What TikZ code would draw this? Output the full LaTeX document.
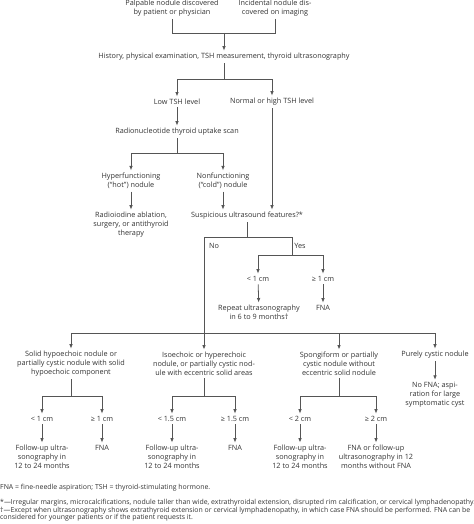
\documentclass[tikz,border=0pt]{standalone}
\usepackage{fontspec}
\setmainfont{Open Sans}
\usetikzlibrary{arrows.meta}
\definecolor{txtgray}{HTML}{333333}
\definecolor{linegray}{HTML}{555555}

\begin{document}
\begin{tikzpicture}[x=1bp, y=-1bp,
  box/.style={align=center, inner xsep=0pt, inner ysep=2.5bp, text=txtgray, font=\fontsize{7.3}{9}\selectfont},
  note/.style={anchor=west, align=left, inner sep=0pt, text=txtgray, font=\fontsize{6.95}{7.6}\selectfont},
  link/.style={draw=linegray, line width=0.8bp},
  >={Latex[length=4.5bp, width=3.6bp]}]
  \useasboundingbox (0,0) rectangle (474,524);

  % Presentation
  \node[box] (palp) at (172, 8) {Palpable nodule discovered\\by patient or physician};
  \node[box] (incid) at (275, 8) {Incidental nodule dis-\\covered on imaging};
  \coordinate (top-join) at (224, 33);
  \node[box] (hist) at (224, 57) {History, physical examination, TSH measurement, thyroid ultrasonography};
  \coordinate (tsh-split) at (224, 79);

  % TSH level
  \node[box] (low) at (177, 102) {Low TSH level};
  \node[box] (normal) at (272, 102) {Normal or high TSH level};
  \node[box] (radio) at (177, 132) {Radionucleotide thyroid uptake scan};
  \coordinate (scan-split) at (177, 153);
  \node[box] (hot) at (131, 181) {Hyperfunctioning\\(``hot'') nodule};
  \node[box] (cold) at (223, 181) {Nonfunctioning\\(``cold'') nodule};
  \node[box] (ablate) at (131, 225) {Radioiodine ablation,\\surgery, or antithyroid\\therapy};

  % Ultrasound features
  \node[box] (susp) at (247, 216) {Suspicious ultrasound features?*};
  \coordinate (susp-split) at (247, 237);
  \coordinate (no-c) at (204, 237);
  \coordinate (yes-c) at (292, 237);
  \node[box] (lbl-no) at (214, 246) {No};
  \node[box] (lbl-yes) at (300, 246) {Yes};
  \coordinate (yes-split) at (292, 255);
  \node[box] (yes-small) at (258, 279) {< 1 cm};
  \node[box] (yes-large) at (323, 279) {≥ 1 cm};
  \node[box] (repeat) at (259, 312.5) {Repeat ultrasonography\\in 6 to 9 months†};
  \node[box] (yes-fna) at (323, 308) {FNA};
  \coordinate (no-split) at (204, 333);

  % Nodule types
  \node[box] (solid) at (71, 364) {Solid hypoechoic nodule or\\partially cystic nodule with solid\\hypoechoic component};
  \node[box] (iso) at (204, 364) {Isoechoic or hyperechoic\\nodule, or partially cystic nod-\\ule with eccentric solid areas};
  \node[box] (spongi) at (339, 364) {Spongiform or partially\\cystic nodule without\\eccentric solid nodule};
  \node[box] (cystic) at (435, 355) {Purely cystic nodule};
  \node[box] (nofna) at (435, 395) {No FNA; aspi-\\ration for large\\symptomatic cyst};
  \coordinate (solid-split) at (71, 396);
  \coordinate (iso-split) at (204, 396);
  \coordinate (spongi-split) at (339, 396);

  % Size cut-offs
  \node[box] (solid-small) at (42, 419) {< 1 cm};
  \node[box] (solid-large) at (102, 419) {≥ 1 cm};
  \node[box] (iso-small) at (172, 419) {< 1.5 cm};
  \node[box] (iso-large) at (235, 419) {≥ 1.5 cm};
  \node[box] (spongi-small) at (300, 419) {< 2 cm};
  \node[box] (spongi-large) at (376, 419) {≥ 2 cm};
  \node[box] (solid-follow) at (42, 457) {Follow-up ultra-\\sonography in\\12 to 24 months};
  \node[box] (solid-fna) at (102, 448) {FNA};
  \node[box] (iso-follow) at (172, 457) {Follow-up ultra-\\sonography in\\12 to 24 months};
  \node[box] (iso-fna) at (235, 448) {FNA};
  \node[box] (spongi-follow) at (300, 457) {Follow-up ultra-\\sonography in\\12 to 24 months};
  \node[box] (spongi-fna) at (376, 457) {FNA or follow-up\\ultrasonography in 12\\months without FNA};

  % Footnotes
  \node[note] (fn-abbr) at (0, 488) {FNA = fine-needle aspiration; TSH = thyroid-stimulating hormone.};
  \node[note] (fn-marks) at (0, 510.5) {*—Irregular margins, microcalcifications, nodule taller than wide, extrathyroidal extension, disrupted rim calcification, or cervical lymphadenopathy.\\†—Except when ultrasonography shows extrathyroid extension or cervical lymphadenopathy, in which case FNA should be performed. FNA can be\\considered for younger patients or if the patient requests it.};

  % Connectors, top part
  \draw[link] (palp.south) |- (top-join);
  \draw[link] (incid.south) |- (top-join);
  \draw[link, ->] (top-join) -- (hist);
  \draw[link] (hist) -- (tsh-split);
  \draw[link, ->] (tsh-split) -| (low);
  \draw[link, ->] (tsh-split) -| (normal);
  \draw[link, ->] (low) -- (radio);
  \draw[link] (radio) -- (scan-split);
  \draw[link, ->] (scan-split) -| (hot);
  \draw[link, ->] (scan-split) -| (cold);
  \draw[link, ->] (hot) -- (ablate);
  \draw[link, ->] (cold) -- (cold |- susp.north);
  \draw[link, ->] (normal) -- (normal |- susp.north);

  % Connectors, yes / no
  \draw[link] (susp) -- (susp-split);
  \draw[link] (no-c) -- (yes-c);
  \draw[link] (yes-c) -- (yes-split);
  \draw[link, ->] (yes-split) -| (yes-small);
  \draw[link, ->] (yes-split) -| (yes-large);
  \draw[link, ->] (yes-small) -- (repeat);
  \draw[link, ->] (yes-large) -- (yes-fna);
  \draw[link] (no-c) -- (no-split);
  \draw[link, ->] (no-split) -| (solid);
  \draw[link, ->] (no-split) -- (iso);
  \draw[link, ->] (no-split) -| (spongi);
  \draw[link, ->] (no-split) -| (cystic);
  \draw[link, ->] (cystic) -- (nofna);

  % Connectors, bottom part
  \draw[link] (solid) -- (solid-split);
  \draw[link, ->] (solid-split) -| (solid-small);
  \draw[link, ->] (solid-split) -| (solid-large);
  \draw[link, ->] (solid-small) -- (solid-follow);
  \draw[link, ->] (solid-large) -- (solid-fna);
  \draw[link] (iso) -- (iso-split);
  \draw[link, ->] (iso-split) -| (iso-small);
  \draw[link, ->] (iso-split) -| (iso-large);
  \draw[link, ->] (iso-small) -- (iso-follow);
  \draw[link, ->] (iso-large) -- (iso-fna);
  \draw[link] (spongi) -- (spongi-split);
  \draw[link, ->] (spongi-split) -| (spongi-small);
  \draw[link, ->] (spongi-split) -| (spongi-large);
  \draw[link, ->] (spongi-small) -- (spongi-follow);
  \draw[link, ->] (spongi-large) -- (spongi-fna);
\end{tikzpicture}
\end{document}
